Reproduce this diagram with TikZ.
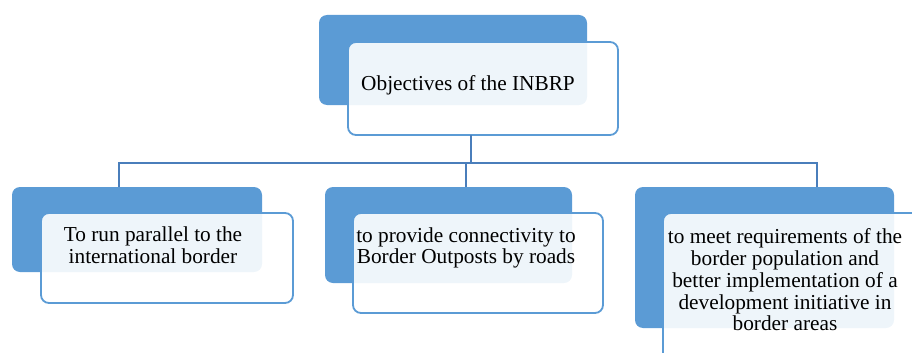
\documentclass[tikz,border=0pt]{standalone}
\usepackage{fontspec}
\setmainfont{Liberation Serif}
\definecolor{accent}{HTML}{5B9BD5}
\definecolor{linkc}{HTML}{4A7EBB}
\begin{document}
\begin{tikzpicture}[x=1pt,y=-1pt,
  bluebox/.style={fill=accent, draw=none, rounded corners=8pt, inner sep=0pt, outer sep=0pt},
  outbox/.style={draw=accent, line width=1.8pt, fill=white, fill opacity=0.9, rounded corners=8pt, inner sep=0pt, outer sep=0pt},
  label/.style={align=center, font=\fontsize{21.3}{21.7}\selectfont, inner sep=0pt, text=black},
  link/.style={draw=linkc, line width=2pt}
]
\useasboundingbox (0,0) rectangle (912,353);
% top
\node[bluebox, minimum width=268pt, minimum height=90pt] (b0) at (453,60) {};
\node[outbox, minimum width=270pt, minimum height=93pt] (o0) at (483,88.5) {};
\node[label] (t0) at (468,85) {Objectives of the INBRP};
% left
\node[bluebox, minimum width=250pt, minimum height=85pt] (b1) at (137,229.5) {};
\node[outbox, minimum width=252pt, minimum height=90pt] (o1) at (167,258) {};
\node[label] (t1) at (153,245) {To run parallel to the\\international border};
% middle
\node[bluebox, minimum width=247pt, minimum height=96pt] (b2) at (448.5,235) {};
\node[outbox, minimum width=250pt, minimum height=100pt] (o2) at (478,263) {};
\node[label] (t2) at (466,248) {to provide connectivity to\\Border Outposts by roads};
% right
\node[bluebox, minimum width=259pt, minimum height=141pt] (b3) at (764.5,257.5) {};
\node[outbox, minimum width=270pt, minimum height=160pt] (o3) at (798,293) {};
\node[label] (t3) at (785,280) {to meet requirements of the\\border population and\\better implementation of a\\development initiative in\\border areas};
% connectors
\coordinate (h0) at (471,163);
\coordinate (hl) at (119,163);
\coordinate (hr) at (817,163);
\coordinate (hm) at (466,163);
\draw[link] (o0.south -| h0) -- (h0);
\draw[link] (hl |- b1.north) -- (hl) -- (hr) -- (hr |- b3.north);
\draw[link] (hm) -- (hm |- b2.north);
\end{tikzpicture}
\end{document}
